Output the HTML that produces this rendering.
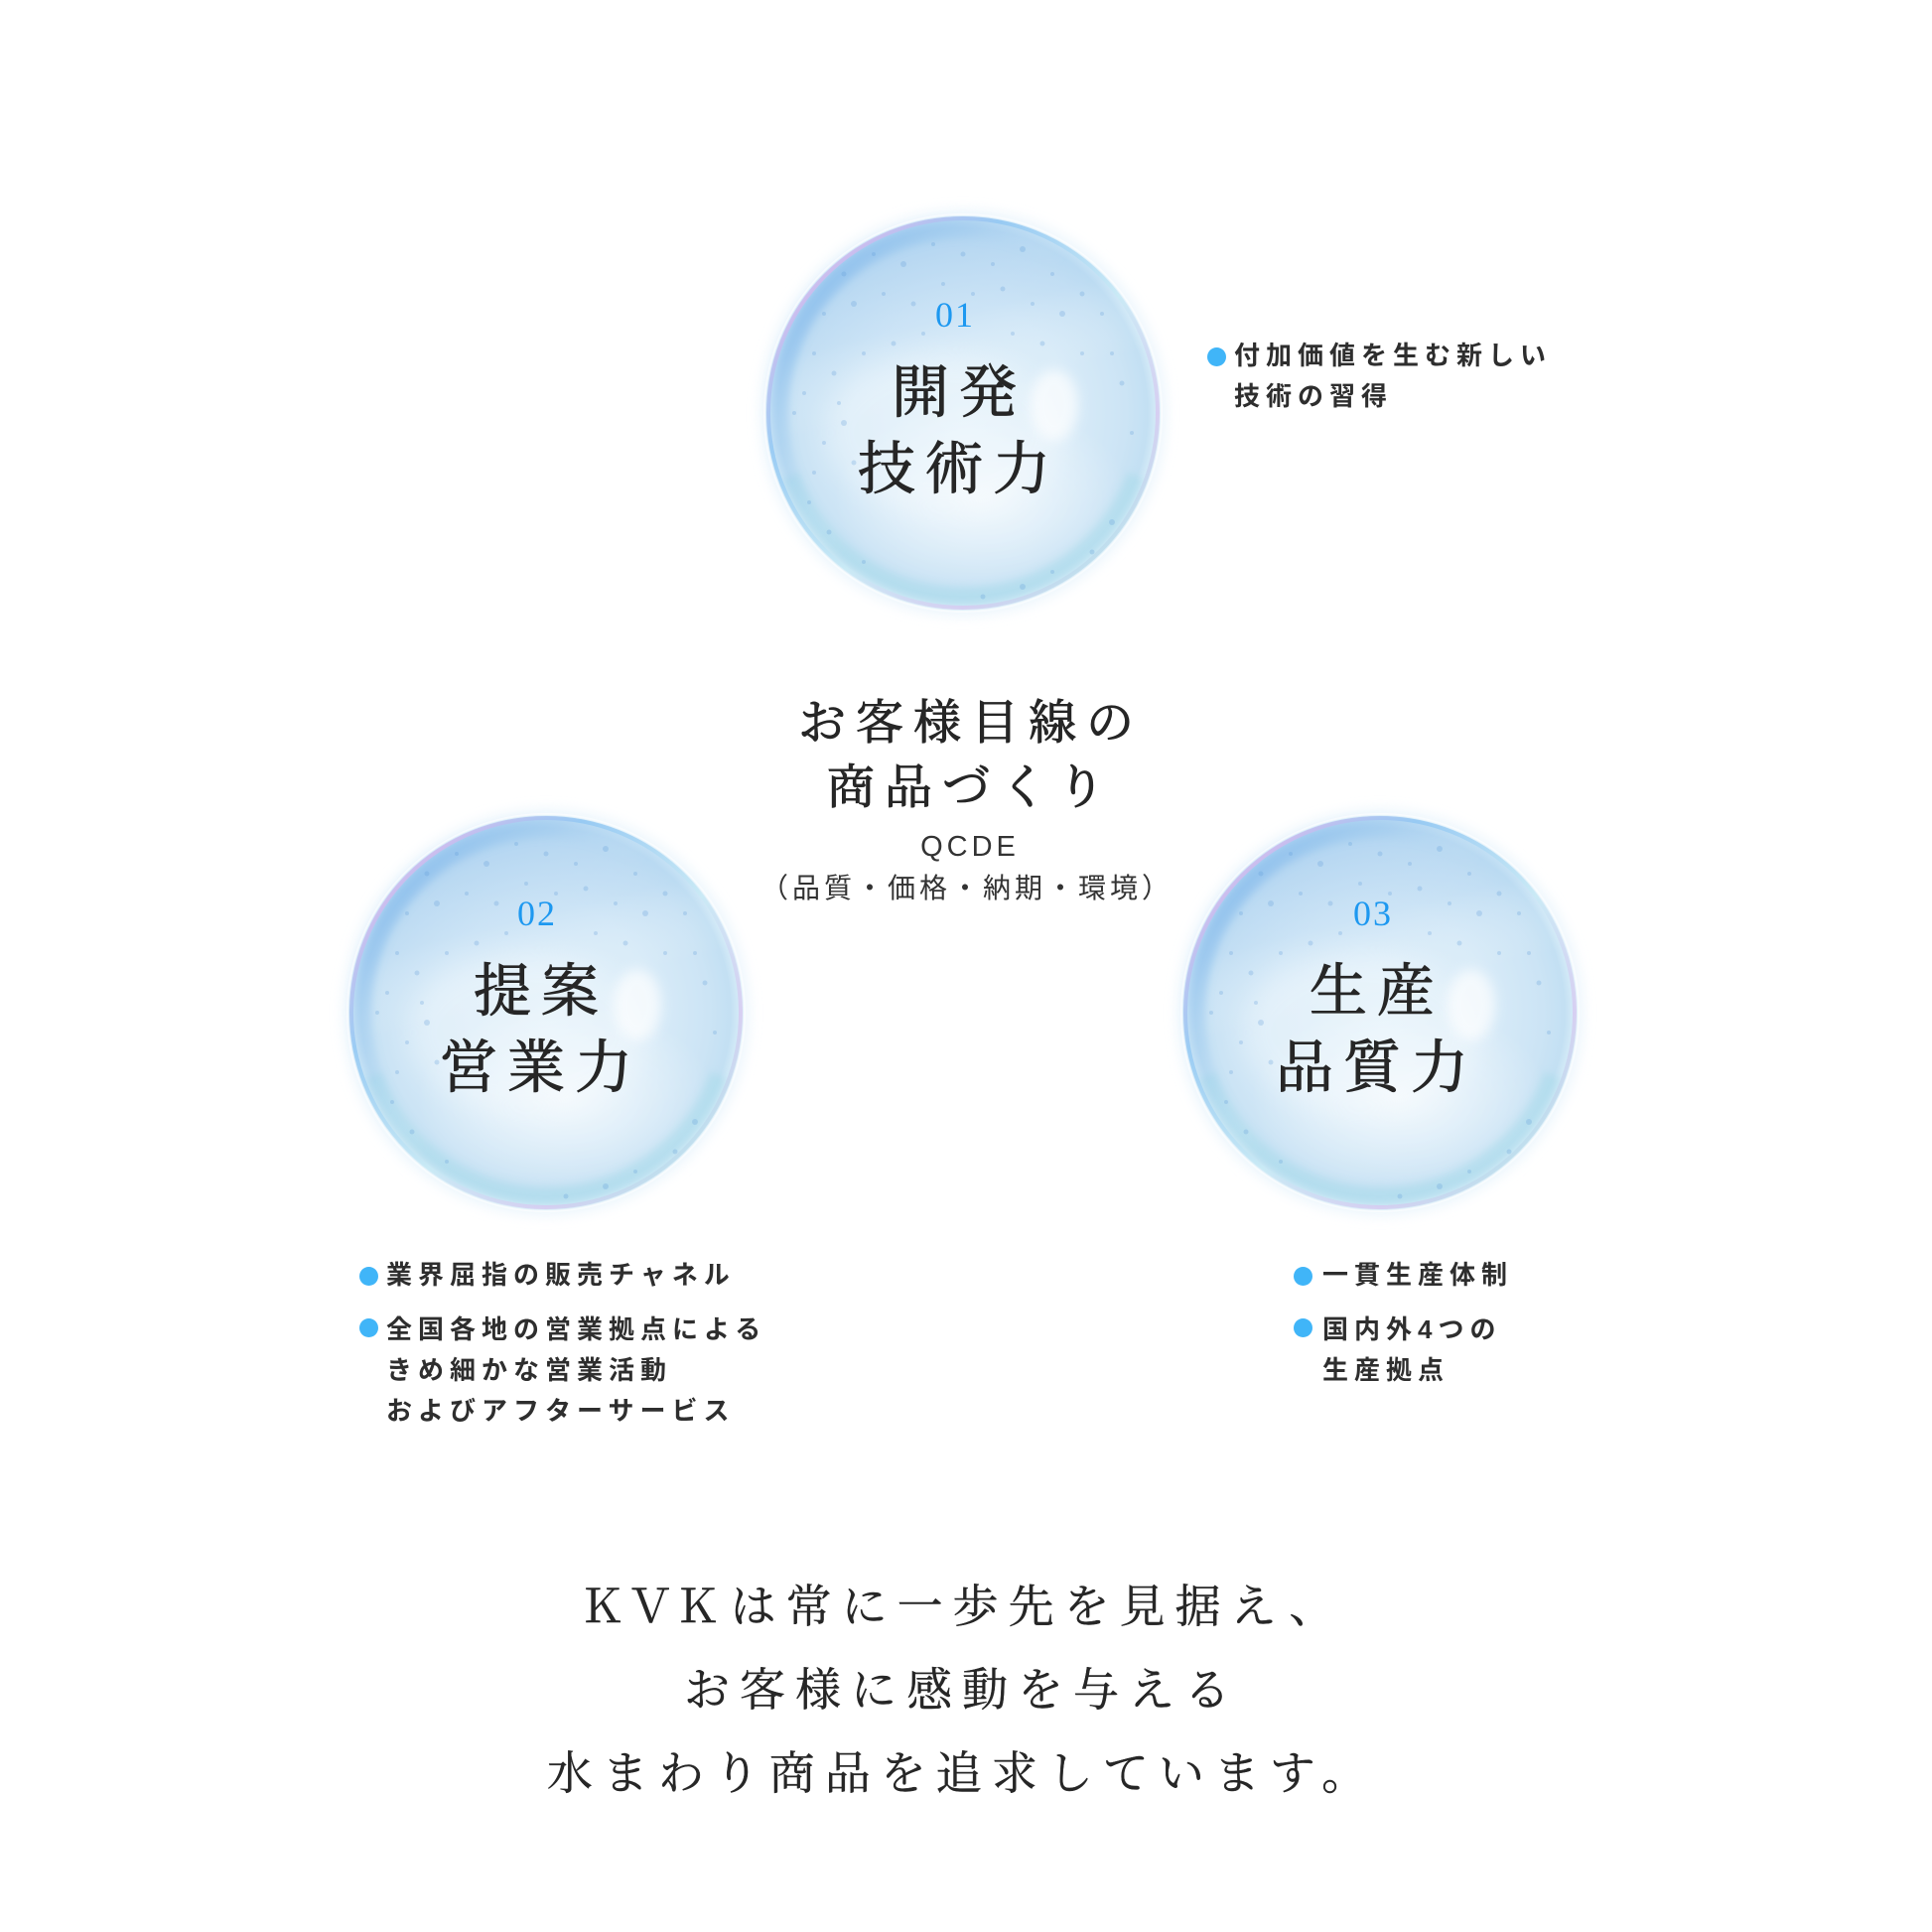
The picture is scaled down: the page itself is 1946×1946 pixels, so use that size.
<!DOCTYPE html>
<html lang="ja">
<head>
<meta charset="utf-8">
<style>
html,body{margin:0;padding:0;background:#fff;}
body{width:1946px;height:1946px;position:relative;overflow:hidden;}
svg.bg{position:absolute;left:0;top:0;}
.t{position:absolute;white-space:nowrap;text-align:center;box-sizing:border-box;color:#262626;}
.serif{font-family:"Liberation Serif","Noto Serif CJK SC",serif;}
.sans{font-family:"Liberation Sans","Noto Sans CJK JP",sans-serif;}
.num{font-size:36px;line-height:36px;letter-spacing:2px;padding-left:2px;color:#1d98f0;width:200px;}
.title{font-size:58px;line-height:77px;letter-spacing:10px;padding-left:10px;width:320px;font-weight:400;-webkit-text-stroke:1px #262626;}
.bl{position:absolute;white-space:nowrap;font-family:"Liberation Sans","Noto Sans CJK JP",sans-serif;font-weight:700;font-size:26px;line-height:41px;letter-spacing:6px;color:#2e2e2e;}
.dot{position:absolute;width:19px;height:19px;border-radius:50%;background:#40b5f8;}
</style>
</head>
<body>
<svg class="bg" width="1946" height="1946" viewBox="0 0 1946 1946" xmlns="http://www.w3.org/2000/svg">
<defs>
<radialGradient id="base" cx="0.5" cy="0.5" r="0.5">
<stop offset="0" stop-color="#e2f1fa"/>
<stop offset="0.55" stop-color="#d8ebf8"/>
<stop offset="0.82" stop-color="#cce4f5"/>
<stop offset="0.93" stop-color="#c3e0f3"/>
<stop offset="0.98" stop-color="#d6ecf8"/>
<stop offset="1" stop-color="#eaf5fc"/>
</radialGradient>
<linearGradient id="topb" x1="0" y1="0" x2="0.25" y2="1">
<stop offset="0" stop-color="#8bbdeb" stop-opacity="0.55"/>
<stop offset="0.35" stop-color="#a6cdef" stop-opacity="0.25"/>
<stop offset="0.55" stop-color="#ffffff" stop-opacity="0"/>
</linearGradient>
<radialGradient id="wht" cx="0.5" cy="0.5" r="0.5">
<stop offset="0" stop-color="#ffffff" stop-opacity="0.65"/>
<stop offset="1" stop-color="#ffffff" stop-opacity="0"/>
</radialGradient>
<linearGradient id="leftb" x1="0" y1="0.2" x2="0.8" y2="0.8">
<stop offset="0" stop-color="#6aaae8" stop-opacity="0.55"/>
<stop offset="0.3" stop-color="#86bcec" stop-opacity="0.2"/>
<stop offset="0.55" stop-color="#ffffff" stop-opacity="0"/>
</linearGradient>
<linearGradient id="rim" x1="0" y1="0" x2="1" y2="1">
<stop offset="0" stop-color="#a9d2f5"/>
<stop offset="0.15" stop-color="#d3b9ee"/>
<stop offset="0.3" stop-color="#8fc6f3"/>
<stop offset="0.55" stop-color="#c8eaf5"/>
<stop offset="0.75" stop-color="#d7c8f0"/>
<stop offset="0.9" stop-color="#b0e4ea"/>
<stop offset="1" stop-color="#e0f3f7"/>
</linearGradient>
<filter id="b3" x="-20%" y="-20%" width="140%" height="140%"><feGaussianBlur stdDeviation="4"/></filter>
<filter id="b6" x="-30%" y="-30%" width="160%" height="160%"><feGaussianBlur stdDeviation="6"/></filter>
<filter id="b12" x="-30%" y="-30%" width="160%" height="160%"><feGaussianBlur stdDeviation="12"/></filter>
<symbol id="bub" viewBox="-210 -210 420 420" overflow="visible">
<circle r="205" fill="#e2f1fb" opacity="0.6" filter="url(#b6)"/>
<circle r="200" fill="url(#base)"/>
<circle r="198" fill="url(#topb)"/>
<ellipse cx="20" cy="85" rx="150" ry="95" fill="url(#wht)"/>
<ellipse cx="-20" cy="20" rx="120" ry="80" fill="#ffffff" opacity="0.25" filter="url(#b12)"/>
<path d="M173.8 63.3 A185 185 0 0 1 -173.8 63.3" fill="none" stroke="#a6dae9" stroke-width="18" opacity="0.5" filter="url(#b3)"/>
<circle r="186" fill="none" stroke="url(#leftb)" stroke-width="20" filter="url(#b3)"/>
<ellipse cx="92" cy="-8" rx="24" ry="36" fill="#ffffff" opacity="0.7" filter="url(#b6)"/>
<circle r="196" fill="none" stroke="url(#rim)" stroke-width="4" opacity="0.8"/>
<circle r="200" fill="none" stroke="#ffffff" stroke-width="2" opacity="0.6"/>
<g fill="#5d9ad8" opacity="0.25">
<circle cx="-120" cy="-140" r="2.5"/><circle cx="-90" cy="-160" r="2"/><circle cx="-60" cy="-150" r="3"/>
<circle cx="-30" cy="-170" r="2"/><circle cx="0" cy="-160" r="2.5"/><circle cx="30" cy="-150" r="2"/>
<circle cx="60" cy="-165" r="3"/><circle cx="90" cy="-140" r="2"/><circle cx="120" cy="-120" r="2.5"/>
<circle cx="140" cy="-100" r="2"/><circle cx="-140" cy="-100" r="2"/><circle cx="-110" cy="-110" r="3"/>
<circle cx="-80" cy="-120" r="2"/><circle cx="-50" cy="-110" r="2.5"/><circle cx="-20" cy="-130" r="2"/>
<circle cx="10" cy="-120" r="2"/><circle cx="40" cy="-125" r="2.5"/><circle cx="70" cy="-110" r="2"/>
<circle cx="100" cy="-100" r="3"/><circle cx="150" cy="-60" r="2"/><circle cx="160" cy="-30" r="2.5"/>
<circle cx="-150" cy="-60" r="2"/><circle cx="-130" cy="-40" r="2.5"/><circle cx="-160" cy="-20" r="2"/>
<circle cx="-120" cy="10" r="3"/><circle cx="-140" cy="30" r="2"/><circle cx="-110" cy="50" r="2.5"/>
<circle cx="-150" cy="60" r="2"/><circle cx="-100" cy="-60" r="2"/><circle cx="-70" cy="-70" r="2.5"/>
<circle cx="-40" cy="-80" r="2"/><circle cx="50" cy="-80" r="2"/><circle cx="80" cy="-70" r="2.5"/>
<circle cx="120" cy="-60" r="2"/><circle cx="-170" cy="0" r="2"/><circle cx="-125" cy="-10" r="2"/>
<circle cx="170" cy="20" r="2"/><circle cx="150" cy="110" r="3"/><circle cx="130" cy="140" r="2.5"/>
<circle cx="60" cy="175" r="3"/><circle cx="20" cy="185" r="2.5"/><circle cx="90" cy="160" r="2"/>
<circle cx="-155" cy="90" r="2"/><circle cx="-135" cy="120" r="2.5"/><circle cx="-100" cy="150" r="2"/>
</g>
</symbol>
</defs>
<use href="#bub" x="760" y="206" width="420" height="420"/>
<use href="#bub" x="340" y="810" width="420" height="420"/>
<use href="#bub" x="1180" y="810" width="420" height="420"/>
</svg>

<!-- Bubble 1 -->
<div class="t serif num" style="left:861px;top:299px;">01</div>
<div class="t serif title" style="left:801px;top:357px;">開発<br>技術力</div>

<!-- Bubble 2 -->
<div class="t serif num" style="left:440px;top:902px;">02</div>
<div class="t serif title" style="left:380px;top:960px;">提案<br>営業力</div>

<!-- Bubble 3 -->
<div class="t serif num" style="left:1282px;top:902px;">03</div>
<div class="t serif title" style="left:1222px;top:960px;">生産<br>品質力</div>

<!-- Center text -->
<div class="t serif" style="left:773px;top:696px;width:400px;font-size:48px;line-height:65px;letter-spacing:10px;padding-left:10px;font-weight:400;-webkit-text-stroke:1px #262626;">お客様目線の<br>商品づくり</div>
<div class="t" style="left:875px;top:839px;width:200px;font-family:'Liberation Sans',sans-serif;font-size:29px;line-height:29px;letter-spacing:4px;padding-left:4px;color:#333;">QCDE</div>
<div class="t sans" style="left:722px;top:881px;width:500px;font-size:28px;line-height:28px;letter-spacing:4px;padding-left:4px;color:#333;">（品質・価格・納期・環境）</div>

<!-- Bullets -->
<div class="dot" style="left:1216px;top:350px;"></div>
<div class="bl" style="left:1243px;top:338px;">付加価値を生む新しい<br>技術の習得</div>

<div class="dot" style="left:362px;top:1276px;"></div>
<div class="bl" style="left:389px;top:1264px;">業界屈指の販売チャネル</div>
<div class="dot" style="left:362px;top:1328px;"></div>
<div class="bl" style="left:389px;top:1319px;">全国各地の営業拠点による<br>きめ細かな営業活動<br>およびアフターサービス</div>

<div class="dot" style="left:1303px;top:1276px;"></div>
<div class="bl" style="left:1332px;top:1264px;">一貫生産体制</div>
<div class="dot" style="left:1303px;top:1328px;"></div>
<div class="bl" style="left:1332px;top:1319px;">国内外4つの<br>生産拠点</div>

<!-- Bottom text -->
<div class="t serif" style="left:464px;top:1577px;width:1000px;font-size:46px;line-height:84px;letter-spacing:10px;padding-left:10px;-webkit-text-stroke:0.4px #262626;"><span style="letter-spacing:2px;">ＫＶ</span><span>Ｋは常に一歩先を見据え、</span><br>お客様に感動を与える<br>水まわり商品を追求しています。</div>
</body>
</html>
